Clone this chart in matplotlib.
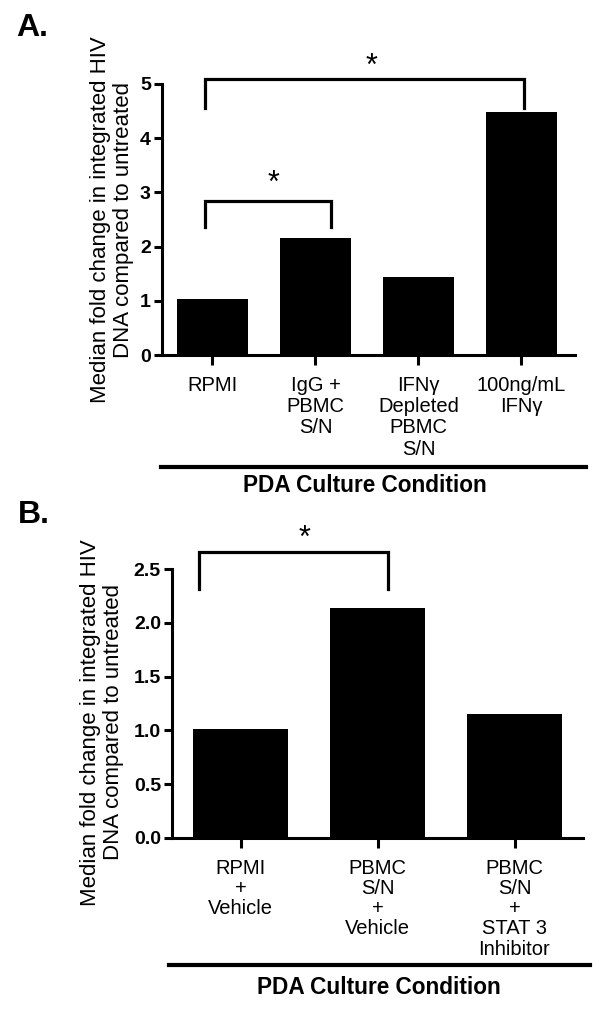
import matplotlib
matplotlib.use("Agg")
import matplotlib.pyplot as plt
from matplotlib.lines import Line2D

plt.rcParams['font.family'] = ['Liberation Sans', 'DejaVu Sans']

# panel A data
a_labels = ["RPMI", "IgG +\nPBMC\nS/N", "IFN\u03b3\nDepleted\nPBMC\nS/N", "100ng/mL\nIFN\u03b3"]
a_values = [1.04, 2.16, 1.43, 4.49]
a_ticks = [0, 1, 2, 3, 4, 5]

# panel B data
b_labels = ["RPMI\n+\nVehicle", "PBMC\nS/N\n+\nVehicle", "PBMC\nS/N\n+\nSTAT 3\nInhibitor"]
b_values = [1.01, 2.14, 1.15]
b_ticks = [0.0, 0.5, 1.0, 1.5, 2.0, 2.5]

ylab = "Median fold change in integrated HIV\nDNA compared to untreated"
W, H = 602, 1015


def style(ax, labels, ticks, fmt, ls):
    ax.spines['top'].set_visible(False)
    ax.spines['right'].set_visible(False)
    ax.spines['left'].set_linewidth(2.2)
    ax.spines['bottom'].set_linewidth(2.2)
    ax.set_xticks(range(len(labels)))
    ax.set_xticklabels(labels, fontsize=14.5, linespacing=ls, va='top')
    ax.set_yticks(ticks)
    ax.set_yticklabels([fmt.format(t) for t in ticks], fontsize=14, fontweight='bold')
    ax.tick_params(axis='x', length=7, width=2.2, pad=8)
    ax.tick_params(axis='y', length=6, width=2.2, pad=2)


def bracket(ax, x0, x1, top, leg, star_x, star_y):
    ax.plot([x0, x0, x1, x1], [leg, top, top, leg], color='black', lw=2.3,
            clip_on=False, solid_joinstyle='miter')
    ax.text(star_x, star_y, "*", ha='center', va='center', fontsize=22)


def hline(y, x0, x1):
    fig.add_artist(Line2D([x0 / W, x1 / W], [1 - y / H, 1 - y / H], color='black', lw=3))


fig = plt.figure(figsize=(6.02, 10.15), dpi=100)

# ---- panel A ----
axA = fig.add_axes([162 / W, 1 - 355 / H, 413 / W, 271 / H])
axA.bar(range(len(a_values)), a_values, width=0.69, color='black')
axA.set_xlim(-0.49, 3.52)
axA.set_ylim(0, 5)
style(axA, a_labels, a_ticks, "{:g}", 1.15)
axA.set_ylabel(ylab, fontsize=16, linespacing=1.15)
axA.yaxis.set_label_coords(-0.068, 0.5)
bracket(axA, -0.07, 3.02, 5.1, 4.55, 1.54, 5.32)
bracket(axA, -0.07, 1.15, 2.85, 2.36, 0.59, 3.16)
hline(467, 161, 586)
fig.text(365 / W, 1 - 485 / H, "PDA Culture Condition", ha='center', va='center',
         fontsize=16.3, fontweight='bold')
fig.text(16 / W, 1 - 28 / H, "A.", ha='left', va='center', fontsize=23, fontweight='bold')

# ---- panel B ----
axB = fig.add_axes([172 / W, 1 - 838 / H, 411 / W, 269 / H])
axB.bar(range(len(b_values)), b_values, width=0.69, color='black')
axB.set_xlim(-0.5, 2.5)
axB.set_ylim(0, 2.5)
style(axB, b_labels, b_ticks, "{:.1f}", 1.08)
axB.set_ylabel(ylab, fontsize=16, linespacing=1.15)
axB.yaxis.set_label_coords(-0.116, 0.43)
bracket(axB, -0.30, 1.08, 2.66, 2.31, 0.47, 2.78)
hline(965, 169, 590)
fig.text(379 / W, 1 - 988 / H, "PDA Culture Condition", ha='center', va='center',
         fontsize=16.3, fontweight='bold')
fig.text(18 / W, 1 - 515 / H, "B.", ha='left', va='center', fontsize=23, fontweight='bold')

fig.savefig("out.png", dpi=100)
